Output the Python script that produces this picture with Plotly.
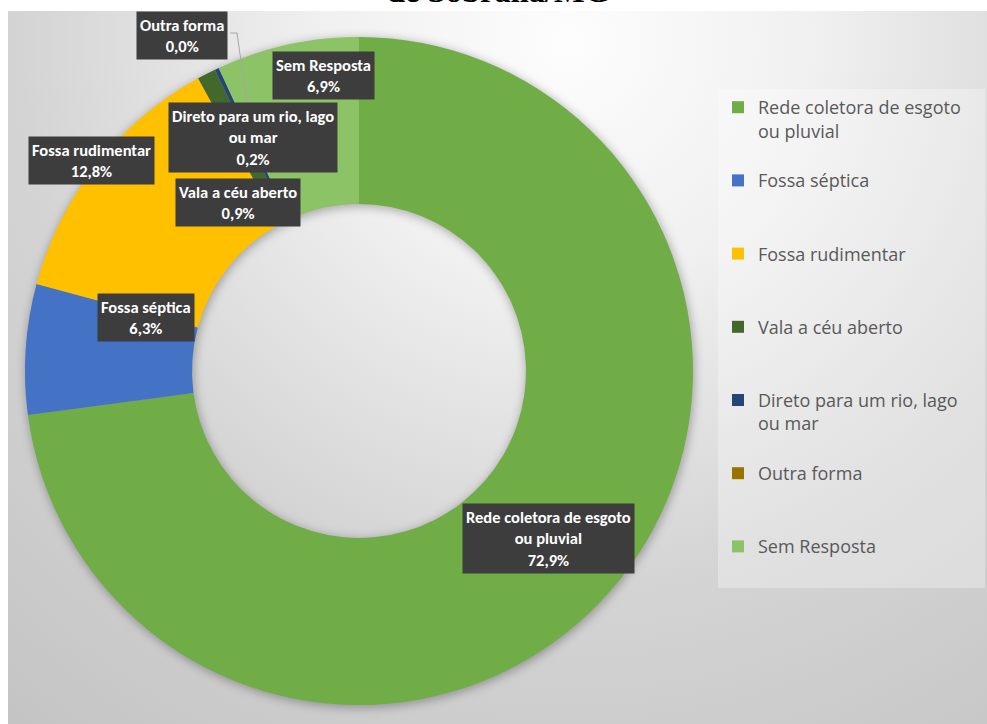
import base64
import plotly.graph_objects as go

# ---------------- data ----------------
categories = [
    "Rede coletora de esgoto ou pluvial",
    "Fossa séptica",
    "Fossa rudimentar",
    "Vala a céu aberto",
    "Direto para um rio, lago ou mar",
    "Outra forma",
    "Sem Resposta",
]
percent = [72.9, 6.3, 12.8, 0.9, 0.2, 0.0, 6.9]
colors = ["#70AD47", "#4472C4", "#FFC000", "#43682B", "#264478", "#997300", "#8CC366"]

# wrapped versions used for legend / data labels
legend_wrap = {
    "Rede coletora de esgoto ou pluvial": "Rede coletora de esgoto&nbsp;&nbsp;&nbsp;&nbsp;<br>ou pluvial",
    "Direto para um rio, lago ou mar": "Direto para um rio, lago<br>ou mar",
}
label_wrap = {
    "Rede coletora de esgoto ou pluvial": "Rede coletora de esgoto<br>ou pluvial",
    "Direto para um rio, lago ou mar": "Direto para um rio, lago<br>ou mar",
}

W, H = 987, 724

def px(x):
    return x / W

def py(y):
    return 1 - y / H

# legend entries padded to three lines each for even spacing (last one to two)
legend_names = []
for i, c in enumerate(categories):
    t = legend_wrap.get(c, c)
    n = t.count("<br>") + 1
    target = 2 if i == len(categories) - 1 else 3
    legend_names.append(t + "<br>&nbsp;" * (target - n))

# donut geometry (pixels)
cx, cy, R = 359, 371, 334
hole = 0.5

fig = go.Figure()
fig.add_trace(go.Pie(
    labels=legend_names,
    values=percent,
    marker=dict(colors=colors, line=dict(width=0)),
    hole=hole,
    sort=False,
    direction="clockwise",
    rotation=0,
    textinfo="none",
    hoverinfo="label+percent",
    domain=dict(x=[px(cx - R), px(cx + R)], y=[py(cy + R), py(cy - R)]),
))

# background gradient + soft donut shadow (svg data uri)
bx, by = 8, 11  # top-left of grey chart area
scx, scy = cx - bx + 1, cy - by + 2
ro, ri = R + 1, R * hole - 1
ring = (
    f'M{scx - ro},{scy} a{ro},{ro} 0 1,0 {2 * ro},0 a{ro},{ro} 0 1,0 {-2 * ro},0 Z '
    f'M{scx - ri},{scy} a{ri},{ri} 0 1,0 {2 * ri},0 a{ri},{ri} 0 1,0 {-2 * ri},0 Z'
)
bg_svg = (
    '<svg xmlns="http://www.w3.org/2000/svg" width="979" height="713" viewBox="0 0 979 713">'
    '<defs><radialGradient id="g" gradientUnits="userSpaceOnUse" cx="560" cy="30" r="880">'
    '<stop offset="0" stop-color="#fdfdfd"/>'
    '<stop offset="0.28" stop-color="#f0f0f0"/>'
    '<stop offset="0.62" stop-color="#d4d4d4"/>'
    '<stop offset="1" stop-color="#c4c4c4"/>'
    '</radialGradient>'
    '<filter id="b" x="-20%" y="-20%" width="140%" height="140%">'
    '<feGaussianBlur stdDeviation="5"/></filter></defs>'
    '<rect width="979" height="713" fill="url(#g)"/>'
    f'<path d="{ring}" fill="black" fill-opacity="0.28" fill-rule="evenodd" filter="url(#b)"/>'
    '</svg>'
)
bg_uri = "data:image/svg+xml;base64," + base64.b64encode(bg_svg.encode()).decode()

# data label positions (pixel centres of the dark boxes)
label_pos = [(548, 538), (146, 317), (91, 160), (238, 203), (253, 137), (182, 35), (323, 76)]

annotations = []
for c, v, (lx, ly) in zip(categories, percent, label_pos):
    txt = label_wrap.get(c, c) + "<br>" + f"{v:.1f}".replace(".", ",") + "%"
    annotations.append(dict(
        x=px(lx), y=py(ly), xref="paper", yref="paper",
        text=txt, showarrow=False, align="center",
        font=dict(family="Carlito, Calibri, Lato, sans-serif", size=16.5, color="white", weight="bold"),
        bgcolor="#3d3d3d", borderpad=3,
        xanchor="center", yanchor="middle",
    ))

# partially visible title at the very top
annotations.append(dict(
    x=px(498), y=py(-9), xref="paper", yref="paper",
    text="<b>de Sobrália/MG</b>", showarrow=False,
    font=dict(family="Liberation Serif, Times New Roman, serif", size=32.5, color="black"),
    xanchor="center", yanchor="middle",
))

shapes = [
    # leader line for "Outra forma"
    dict(type="line", xref="paper", yref="paper",
         x0=px(230), y0=py(33), x1=px(237), y1=py(33),
         line=dict(color="#a6a6a6", width=1)),
    dict(type="line", xref="paper", yref="paper",
         x0=px(237), y0=py(33), x1=px(247), y1=py(103),
         line=dict(color="#a6a6a6", width=1)),
]

fig.update_layout(
    width=W, height=H,
    margin=dict(l=0, r=0, t=0, b=0),
    paper_bgcolor="white",
    plot_bgcolor="rgba(0,0,0,0)",
    images=[dict(source=bg_uri, xref="paper", yref="paper",
                 x=px(bx), y=py(by), sizex=px(979), sizey=713 / H,
                 xanchor="left", yanchor="top", sizing="stretch", layer="below")],
    legend=dict(
        x=px(718), y=py(89), xanchor="left", yanchor="top",
        bgcolor="rgba(255,255,255,0.3)",
        font=dict(family="Open Sans, sans-serif", size=18, color="#595959"),
        valign="top",
        traceorder="normal",
    ),
    annotations=annotations,
    shapes=shapes,
    showlegend=True,
)

fig.write_html("out.html", config={"displayModeBar": False},
               post_script="document.body.style.margin='0px';")
